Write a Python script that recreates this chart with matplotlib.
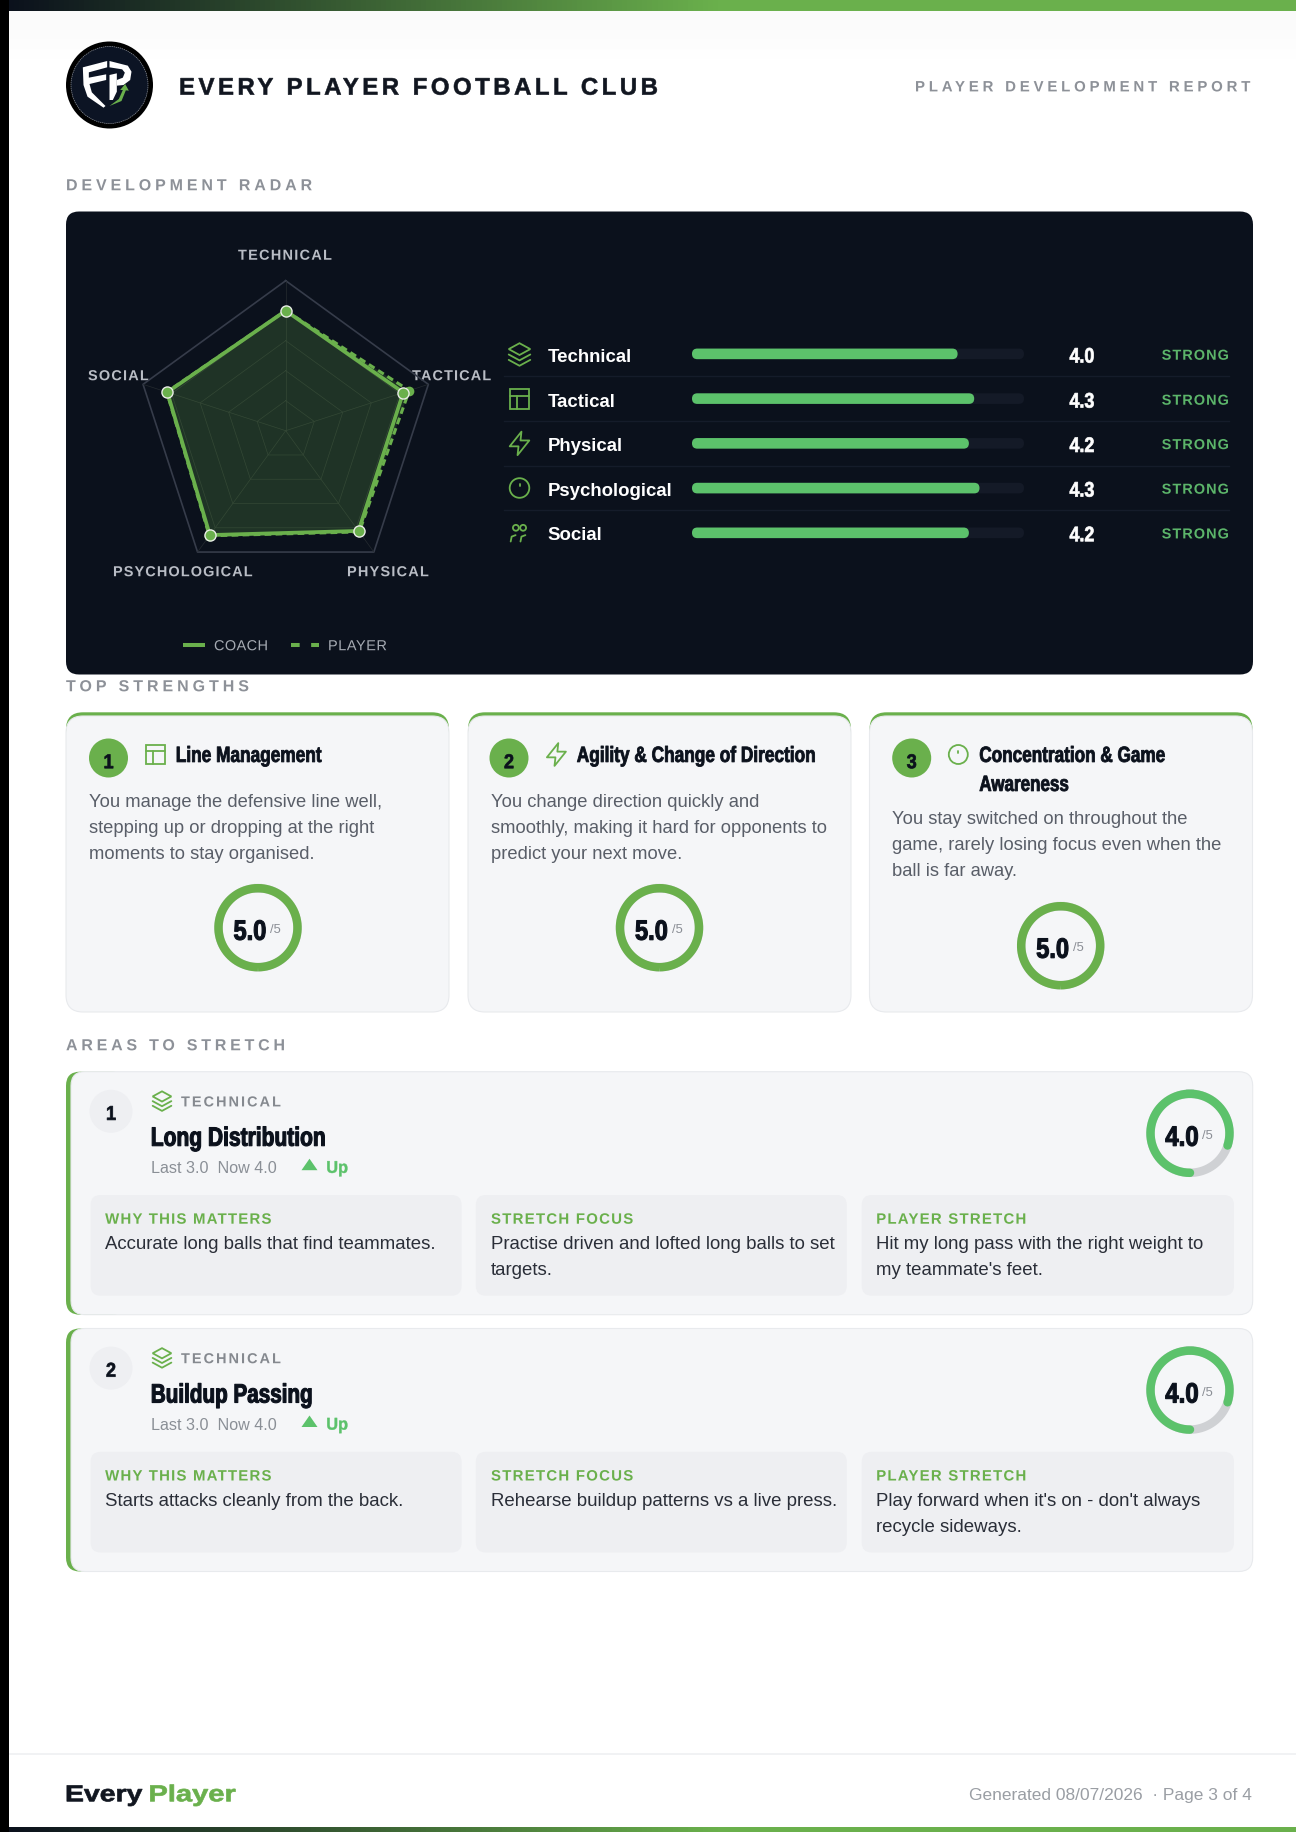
import numpy as np
import matplotlib
matplotlib.use('Agg')
import matplotlib.pyplot as plt
from matplotlib.colors import LinearSegmentedColormap
from matplotlib.patches import Circle, FancyBboxPatch, Polygon, Rectangle
from matplotlib.patheffects import AbstractPathEffect
from matplotlib.path import Path

W, H = 1296, 1833

# chart values
axes_names = ['TECHNICAL', 'TACTICAL', 'PHYSICAL', 'PSYCHOLOGICAL', 'SOCIAL']
coach_scores = [4.0, 4.12, 4.13, 4.3, 4.15]
player_scores = [4.0, 4.33, 4.17, 4.33, 4.17]
row_names = ['Technical', 'Tactical', 'Physical', 'Psychological', 'Social']
row_scores = [4.0, 4.25, 4.17, 4.33, 4.17]
row_labels = ['4.0', '4.3', '4.2', '4.3', '4.2']
row_icons = ['layers', 'grid', 'bolt', 'clock', 'people']

strength_titles = [['Line Management'], ['Agility & Change of Direction'], ['Concentration & Game', 'Awareness']]
strength_icons = ['grid', 'bolt', 'clock']
strength_text = [
    ['You manage the defensive line well,', 'stepping up or dropping at the right', 'moments to stay organised.'],
    ['You change direction quickly and', 'smoothly, making it hard for opponents to', 'predict your next move.'],
    ['You stay switched on throughout the', 'game, rarely losing focus even when the', 'ball is far away.'],
]
strength_scores = [5.0, 5.0, 5.0]

stretch_titles = ['Long Distribution', 'Buildup Passing']
stretch_last = [3.0, 3.0]
stretch_now = [4.0, 4.0]
box_heads = ['WHY THIS MATTERS', 'STRETCH FOCUS', 'PLAYER STRETCH']
stretch_boxes = [
    [['Accurate long balls that find teammates.'],
     ['Practise driven and lofted long balls to set', 'targets.'],
     ['Hit my long pass with the right weight to', "my teammate's feet."]],
    [['Starts attacks cleanly from the back.'],
     ['Rehearse buildup patterns vs a live press.'],
     ["Play forward when it's on - don't always", 'recycle sideways.']],
]

GREEN = '#6ab04c'
BRIGHT = '#5cc26b'
NAVY = '#0b111c'
CARD = '#f5f6f8'
INNER = '#eeeff2'
PLAIN = 'Liberation Sans'

fig = plt.figure(figsize=(W / 100, H / 100), dpi=100, facecolor='white')
ax = fig.add_axes([0, 0, 1, 1])
ax.set_xlim(0, W)
ax.set_ylim(H, 0)
ax.axis('off')
renderer = fig.canvas.get_renderer()


class Spaced(AbstractPathEffect):
    # matplotlib has no letter spacing or condensed faces, so do it on the text outline
    def __init__(self, text, gap=0.0, squeeze=1.0, heavy=0.0):
        super().__init__()
        self.slots = [i for i, c in enumerate(text) if c != ' ']
        self.gap = gap
        self.squeeze = squeeze
        self.heavy = heavy

    def draw_path(self, renderer, gc, tpath, affine, rgbFace=None):
        v = tpath.vertices.copy()
        codes = tpath.codes
        if self.gap:
            gap = self.gap / affine.get_matrix()[0, 0]
            starts = np.flatnonzero(codes == Path.MOVETO)
            ends = np.append(starts[1:], len(v))
            glyph, right = -1, -np.inf
            for a, b in zip(starts, ends):
                xs = v[a:b][codes[a:b] != Path.CLOSEPOLY, 0]
                if (xs.min() + xs.max()) / 2 > right:
                    glyph += 1
                    right = xs.max()
                right = max(right, xs.max())
                v[a:b, 0] += gap * self.slots[min(glyph, len(self.slots) - 1)]
        v[:, 0] *= self.squeeze
        gc0 = renderer.new_gc()
        gc0.copy_properties(gc)
        if self.heavy:
            gc0.set_foreground(rgbFace)
            gc0.set_linewidth(self.heavy)
        renderer.draw_path(gc0, Path(v, codes), affine, rgbFace)
        gc0.restore()


def put(x, y, s, em, color, width=None, fit='size', family=PLAIN, weight='normal', ha='left', heavy=0.0, zorder=6):
    # y is the middle of the capitals, width is the width measured on the reference
    t = ax.text(x, y, s, fontsize=em * 0.72, color=color, family=family, weight=weight,
                ha='left', va='baseline', zorder=zorder)
    natural = t.get_window_extent(renderer).width
    final = natural
    if width is not None:
        final = width
        if fit == 'size':
            em = em * width / natural
            t.set_fontsize(em * 0.72)
        elif fit == 'track':
            t.set_path_effects([Spaced(s, gap=(width - natural) / (len(s) - 1), heavy=heavy)])
        else:
            t.set_path_effects([Spaced(s, squeeze=width / natural, heavy=heavy)])
    t.set_position((x - {'left': 0, 'center': final / 2, 'right': final}[ha], y + 0.36 * em))
    return t


def box(x, y, w, h, r, fc, ec='none', lw=0, zorder=2):
    p = FancyBboxPatch((x, y), w, h, boxstyle=f'round,pad=0,rounding_size={r}',
                       fc=fc, ec=ec, lw=lw, zorder=zorder)
    ax.add_patch(p)
    return p


def ring(cx, cy, score, color, r=39.5, lw=6.1, track='#cfd1d4', start=180):
    th = np.radians(np.linspace(0, 360, 181))
    ax.plot(cx + r * np.sin(th), cy - r * np.cos(th), color=track, lw=lw, zorder=4)
    th = np.radians(np.linspace(start, start + 360 * score / 5, 181))
    cap = 'butt' if score == 5 else 'round'
    ax.plot(cx + r * np.sin(th), cy - r * np.cos(th), color=color, lw=lw, zorder=5,
            solid_capstyle=cap)


def icon(kind, cx, cy, s=1.0, color=GREEN, lw=1.3):
    kw = dict(color=color, lw=lw, zorder=6, solid_capstyle='round', solid_joinstyle='round')
    if kind == 'layers':
        ax.add_patch(Polygon([(cx, cy - 11 * s), (cx + 11 * s, cy - 5 * s), (cx, cy + 1 * s), (cx - 11 * s, cy - 5 * s)],
                             fc='none', ec=color, lw=lw, zorder=6))
        for d in (0, 5.5):
            ax.plot([cx - 11 * s, cx, cx + 11 * s], [cy + (0.5 + d) * s, cy + (6.5 + d) * s, cy + (0.5 + d) * s], **kw)
    elif kind == 'grid':
        ax.add_patch(Rectangle((cx - 10 * s, cy - 10 * s), 20 * s, 20 * s, fc='none', ec=color, lw=lw, zorder=6))
        ax.plot([cx - 10 * s, cx + 10 * s], [cy - 3.5 * s, cy - 3.5 * s], **kw)
        ax.plot([cx - 2.5 * s, cx - 2.5 * s], [cy - 3.5 * s, cy + 10 * s], **kw)
    elif kind == 'bolt':
        pts = [(2, -12), (-10, 3), (-1, 3), (-2, 12), (10, -3), (1, -3)]
        ax.add_patch(Polygon([(cx + a * s, cy + b * s) for a, b in pts], fc='none', ec=color, lw=lw,
                             joinstyle='round', zorder=6))
    elif kind == 'clock':
        ax.add_patch(Circle((cx, cy), 10 * s, fc='none', ec=color, lw=lw, zorder=6))
        ax.plot([cx, cx], [cy - 4 * s, cy - 2 * s], **kw)
    else:
        for dx in (-3.7, 3.7):
            ax.add_patch(Circle((cx + dx * s, cy - 5 * s), 3 * s, fc='none', ec=color, lw=lw, zorder=6))
        ax.plot([cx - 9 * s, cx - 8 * s, cx - 4 * s], [cy + 9 * s, cy + 4 * s, cy + 2.5 * s], **kw)
        ax.plot([cx + 1 * s, cx + 2 * s, cx + 6 * s], [cy + 9 * s, cy + 4 * s, cy + 2.5 * s], **kw)


def logo(cx, cy):
    ax.add_patch(Circle((cx, cy), 43.5, fc='black', ec='none', zorder=3))
    ax.add_patch(Circle((cx, cy), 38.5, fc='#0c1424', ec='#8a8f99', lw=0.5, ls=(0, (2, 1)), zorder=3))

    def z(pts):
        # logo outline was traced on a 100 px crop
        return [(x / 3 + cx - 50, y / 3 + cy - 50) for x, y in pts]
    f_part = [(70, 97), (143, 78), (143, 97), (88, 112), (88, 128), (140, 118), (140, 135), (90, 147),
              (97, 172), (138, 213), (132, 218), (84, 185), (72, 150)]
    p_part = [(150, 78), (205, 92), (216, 110), (212, 135), (192, 150), (172, 152), (172, 135), (190, 128),
              (196, 113), (188, 103), (150, 97)]
    stem = [(150, 120), (172, 115), (172, 170), (160, 195), (150, 195)]
    for part in (f_part, p_part, stem):
        ax.add_patch(Polygon(z(part), fc='white', ec='none', zorder=4))
    ax.add_patch(Polygon(z([(150, 213), (178, 192), (190, 165), (182, 165), (197, 147), (208, 167), (199, 166),
                            (186, 198)]), fc=GREEN, ec='none', zorder=4))


# page furniture
stops = LinearSegmentedColormap.from_list('bar', [(0, NAVY), (0.55, GREEN), (1, GREEN)])
shade = LinearSegmentedColormap.from_list('shade', ['#fafafa', '#ffffff'])
grad = np.linspace(0, 1, 256).reshape(1, -1)
ax.imshow(grad, extent=(9, W, 11.5, 1), cmap=stops, aspect='auto', zorder=1)
ax.imshow(grad, extent=(9, W, H, 1828), cmap=stops, aspect='auto', zorder=1)
ax.imshow(grad.T, extent=(9, W, 60, 11.5), cmap=shade, aspect='auto', zorder=0)
ax.set_xlim(0, W)
ax.set_ylim(H, 0)
ax.add_patch(Rectangle((0, 0), 9, H, fc='black', ec='none', zorder=7))
ax.add_patch(Rectangle((9, 1754), W - 9, 2, fc='#f1f2f4', ec='none', zorder=1))

# header
logo(109.5, 86)
put(179, 87, 'EVERY PLAYER FOOTBALL CLUB', 24, '#111620', width=479, fit='track', weight='bold', heavy=0.4)
put(1250, 87, 'PLAYER DEVELOPMENT REPORT', 15, '#8d9198', width=335, fit='track', weight='bold', ha='right')
put(66, 185.5, 'DEVELOPMENT RADAR', 16, '#8d9198', width=246.5, fit='track', weight='bold')
put(66, 686.5, 'TOP STRENGTHS', 16, '#8d9198', width=183, fit='track', weight='bold')
put(66, 1045.5, 'AREAS TO STRETCH', 16, '#8d9198', width=219, fit='track', weight='bold')

# radar panel
box(66, 212.5, 1187, 463, 13, NAVY, zorder=2)
cx, cy, R = 285.7, 431.7, 150
rad = fig.add_axes([(cx - R) / W, 1 - (cy + R) / H, 2 * R / W, 2 * R / H], projection='polar')
rad.set_theta_zero_location('N')
rad.set_theta_direction(-1)
rad.set_ylim(0, 5)
rad.axis('off')
rad.patch.set_alpha(0)
angles = np.arange(len(axes_names)) * 2 * np.pi / len(axes_names)
closed = np.append(angles, angles[0])
for level in [1, 2, 3, 4]:
    rad.plot(closed, [level] * 6, color='#252b30', lw=0.5, zorder=1)
rad.plot(closed, [5] * 6, color='#363c4a', lw=1.2, zorder=1, clip_on=False)
for a in angles:
    rad.plot([a, a], [0, 5], color='#252b30', lw=0.5, zorder=1)
rad.fill(closed, player_scores + player_scores[:1], color=GREEN, alpha=0.18, lw=0, zorder=2)
rad.fill(closed, coach_scores + coach_scores[:1], color=GREEN, alpha=0.05, lw=0, zorder=2)
rad.plot(closed, player_scores + player_scores[:1], color=GREEN, lw=2.2, ls=(0, (2.2, 1.4)), zorder=3)
rad.plot(angles, player_scores, 'o', ms=7, mfc=GREEN, mec='none', zorder=3, clip_on=False)
rad.plot(closed, coach_scores + coach_scores[:1], color=GREEN, lw=2.7, zorder=4, solid_joinstyle='round')
rad.plot(angles, coach_scores, 'o', ms=8, mfc=GREEN, mec='#e8ece6', mew=1.0, zorder=5, clip_on=False)

label_xy = [(285, 255.5, 94, 'center'), (412, 376, 79, 'left'), (347, 572, 82, 'left'),
            (113, 572, 140, 'left'), (88, 376, 61, 'left')]
for name, (x, y, w, ha) in zip(axes_names, label_xy):
    put(x, y, name, 14.5, '#b9bdc5', width=w, fit='track', weight='bold', ha=ha)
ax.plot([183.3, 205], [645.7, 645.7], color=GREEN, lw=2.9, zorder=4, solid_capstyle='butt')
ax.plot([290.7, 319], [645.7, 645.7], color=GREEN, lw=2.9, ls=(0, (2.15, 2.85)), zorder=4, dash_capstyle='butt')
put(214, 646, 'COACH', 14.5, '#a6abb3', width=54, fit='track')
put(328, 646, 'PLAYER', 14.5, '#a6abb3', width=59, fit='track')

# score rows
rows_y = [355, 400, 444.4, 489, 533.7]
row_h = rows_y[1] - rows_y[0]
bars_h = rows_y[-1] - rows_y[0] + row_h
bars = fig.add_axes([692 / W, 1 - (rows_y[-1] + row_h / 2) / H, 332 / W, bars_h / H])
bars.set_xlim(0, 5)
bars.set_ylim(len(row_names) - 0.5, -0.5)
bars.axis('off')
px_x, px_y = 332 / 5, bars_h / 5
for i, v in enumerate(row_scores):
    for val, col in ((5, '#141a27'), (v, BRIGHT)):
        bars.add_patch(FancyBboxPatch((0, i - 5.3 / px_y), val, 10.6 / px_y,
                                      boxstyle=f'round,pad=0,rounding_size={5.3 / px_x}',
                                      mutation_aspect=px_x / px_y, fc=col, ec='none'))

for i, y in enumerate(rows_y):
    icon(row_icons[i], 519.5, y, s=0.98)
    put(547.5, y, row_names[i], 18.7, 'white', weight='bold')
    put(1082, y + 1, row_labels[i], 21, 'white', width=25, fit='squeeze', weight='bold', ha='center', heavy=0.5)
    put(1229, y + 0.5, 'STRONG', 14.5, '#5cb56a', width=67.3, fit='track', weight='bold', ha='right')
    if i < len(rows_y) - 1:
        ax.plot([504, 1229], [y + 22.3] * 2, color='#151c2a', lw=1, zorder=4)

# strength cards
card_x = [66, 468, 869.5]
card_w = [383, 383, 383]
badge_x = [108.5, 509, 911.7]
icon_x = [155.4, 556.4, 958.3]
title_x = [175.8, 576.8, 979.3]
title_w = [[146], [238.8], [186.4, 89.7]]
body_x = [88.6, 491, 892]
ring_c = [(258, 928.7), (659.5, 928.7), (1060.7, 946.7)]
body_y = [[800.2, 826.2, 852.2], [800.2, 826.2, 852.2], [817.8, 843.8, 869.5]]
for i in range(3):
    x, w = card_x[i], card_w[i]
    box(x, 713.3, w, 60, 17, GREEN)
    box(x, 717, w, 296, 17, CARD, ec='#e8eaed', lw=0.8, zorder=3)
    ax.add_patch(Circle((badge_x[i], 759), 19.5, fc=GREEN, ec='none', zorder=4))
    put(badge_x[i], 762, str(i + 1), 20, NAVY, width=10, fit='squeeze', weight='bold', ha='center', heavy=0.5)
    icon(strength_icons[i], icon_x[i], 755.5, s=0.95)
    for j, line in enumerate(strength_titles[i]):
        put(title_x[i], 755 + 29 * j, line, 22, NAVY, width=title_w[i][j], fit='squeeze', weight='bold', heavy=0.6)
    for j, line in enumerate(strength_text[i]):
        put(body_x[i], body_y[i][j], line, 18.4, '#595e68')
    rx, ry = ring_c[i]
    ring(rx, ry, strength_scores[i], GREEN)
    put(rx - 8, ry + 2, f'{strength_scores[i]:.1f}', 28, NAVY, width=33, fit='squeeze', weight='bold', ha='center',
        heavy=0.8)
    put(rx + 12, ry, '/5', 13, '#8a8e95')

# stretch cards
col_x = [90.6, 476.5, 861.7]
col_w = [371, 371, 372.3]
head_w = [166, 142, 150]
for k, top in enumerate([1072.7, 1329.5]):
    box(66, top, 60, 243, 14, GREEN)
    box(71, top, 1181.7, 243, 14, CARD, ec='#e8eaed', lw=0.8, zorder=3)
    ax.add_patch(Circle((111, top + 39.6), 21.5, fc=INNER, ec='none', zorder=4))
    put(111, top + 41, str(k + 1), 20, NAVY, width=10, fit='squeeze', weight='bold', ha='center', heavy=0.5)
    icon('layers', 162, top + 29, s=0.85)
    put(181, top + 29.5, 'TECHNICAL', 14.5, '#85898f', width=100, fit='track', weight='bold')
    put(150.8, top + 64.5, stretch_titles[k], 26.5, NAVY, width=175 if k == 0 else 162, fit='squeeze', weight='bold',
        heavy=0.8)
    put(150.8, top + 94.5, f'Last {stretch_last[k]:.1f}  Now {stretch_now[k]:.1f}', 15, '#8a8f96', width=126)
    ax.add_patch(Polygon([(301.5, top + 98.5), (317.5, top + 98.5), (309.5, top + 87)], fc=BRIGHT, ec='none', zorder=5))
    put(326.3, top + 95, 'Up', 17, BRIGHT, width=21.7, fit='squeeze', weight='bold', heavy=0.3)
    ring(1190, top + 61.6, stretch_now[k], BRIGHT)
    put(1182, top + 64, f'{stretch_now[k]:.1f}', 28, NAVY, width=33.5, fit='squeeze', weight='bold', ha='center',
        heavy=0.8)
    put(1202, top + 62, '/5', 13, '#8a8e95')
    for c in range(3):
        box(col_x[c] - (0.7 if c == 1 else 0), top + 123.3, col_w[c], 100.7, 10, INNER, zorder=4)
        put(col_x[c] + 14.5, top + 146.6, box_heads[c], 15, GREEN, width=head_w[c], fit='track', weight='bold')
        for j, line in enumerate(stretch_boxes[k][c]):
            put(col_x[c] + 14.5, top + 169.8 + 25.7 * j, line, 18.6, '#2a2e38')

# footer
brand_clip = Rectangle((0, 1770), W, 33, transform=ax.transData)
for word, x, w, col in (('Every', 65, 77, '#111620'), ('Player', 148.4, 87, GREEN)):
    t = put(x, 1794, word, 23, col, width=w, fit='squeeze', weight='bold', heavy=0.5)
    t.set_clip_path(brand_clip)
put(1255, 1794, 'Generated 08/07/2026  \u00b7 Page 3 of 4', 16.5, '#9a9ea4', width=286, ha='right')

fig.savefig('out.png', dpi=100)
